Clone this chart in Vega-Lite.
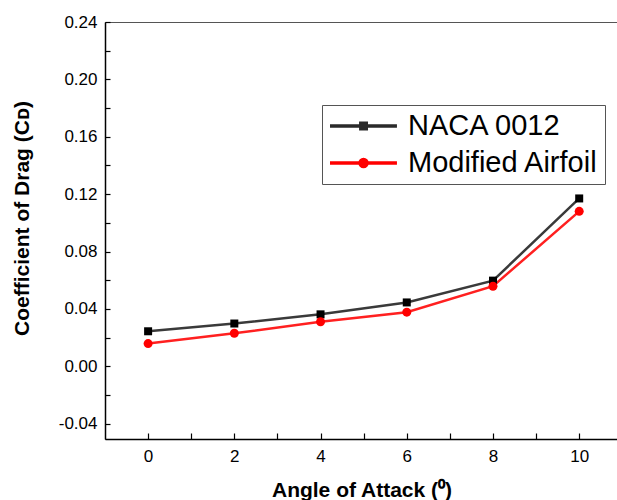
{
  "$schema": "https://vega.github.io/schema/vega-lite/v6.json",
  "width": 513,
  "height": 417,
  "autosize": {"type": "none"},
  "padding": {"left": 105, "top": 22, "right": 0, "bottom": 61},
  "background": "white",
  "config": {
    "view": {"stroke": "#555555", "strokeWidth": 1},
    "font": "Liberation Sans",
    "axis": {
      "labelFont": "Liberation Sans",
      "labelFontSize": 17,
      "labelColor": "black",
      "titleFont": "Liberation Sans",
      "titleFontSize": 21,
      "titleFontWeight": "bold",
      "titleColor": "black",
      "domainColor": "black",
      "domainWidth": 1.5,
      "tickColor": "black",
      "tickWidth": 1.2,
      "grid": false
    }
  },
  "data": {
    "values": [
      {"angle": 0, "series": "NACA 0012", "cd": 0.0244},
      {"angle": 2, "series": "NACA 0012", "cd": 0.0298},
      {"angle": 4, "series": "NACA 0012", "cd": 0.0362},
      {"angle": 6, "series": "NACA 0012", "cd": 0.0445},
      {"angle": 8, "series": "NACA 0012", "cd": 0.0597},
      {"angle": 10, "series": "NACA 0012", "cd": 0.117},
      {"angle": 0, "series": "Modified Airfoil", "cd": 0.0158},
      {"angle": 2, "series": "Modified Airfoil", "cd": 0.023},
      {"angle": 4, "series": "Modified Airfoil", "cd": 0.031},
      {"angle": 6, "series": "Modified Airfoil", "cd": 0.0377},
      {"angle": 8, "series": "Modified Airfoil", "cd": 0.0558},
      {"angle": 10, "series": "Modified Airfoil", "cd": 0.108}
    ]
  },
  "encoding": {
    "x": {
      "field": "angle",
      "type": "quantitative",
      "scale": {"domain": [-1, 10.9], "nice": false, "zero": false},
      "axis": {
        "title": "Angle of Attack (⁰)",
        "values": [0, 1, 2, 3, 4, 5, 6, 7, 8, 9, 10],
        "labelExpr": "datum.value % 2 === 0 ? format(datum.value, 'd') : ''",
        "tickSize": -6,
        "labelPadding": 15,
        "titleY": 40,
        "titleBaseline": "top",
        "labelFlush": false,
        "labelOverlap": false
      }
    },
    "y": {
      "field": "cd",
      "type": "quantitative",
      "scale": {"domain": [-0.0507, 0.24], "nice": false, "zero": false},
      "axis": {
        "title": "Coefficient of Drag (Cᴅ)",
        "values": [-0.04, -0.02, 0, 0.02, 0.04, 0.06, 0.08, 0.1, 0.12, 0.14, 0.16, 0.18, 0.2, 0.22, 0.24],
        "labelExpr": "abs(round(datum.value * 100)) % 4 === 0 ? replace(format(datum.value, '.2f'), '−', '-') : ''",
        "tickSize": -5,
        "labelPadding": 13,
        "titleX": -73,
        "titleY": 196,
        "titleBaseline": "bottom",
        "labelFlush": false,
        "labelOverlap": false
      }
    }
  },
  "layer": [
    {
      "mark": {"type": "line", "strokeWidth": 2.5},
      "encoding": {
        "stroke": {
          "field": "series",
          "type": "nominal",
          "scale": {"range": ["#ff2020", "#3a3a3a"]},
          "legend": null
        }
      }
    },
    {
      "mark": {"type": "point", "filled": true, "opacity": 1},
      "encoding": {
        "shape": {
          "field": "series",
          "type": "nominal",
          "scale": {"range": ["circle", "square"]},
          "legend": null
        },
        "size": {
          "field": "series",
          "type": "nominal",
          "scale": {"range": [81, 64]},
          "legend": null
        },
        "color": {
          "field": "series",
          "type": "nominal",
          "scale": {"domain": ["NACA 0012", "Modified Airfoil"], "range": ["#000000", "#ff0000"]},
          "legend": {
            "title": null,
            "orient": "none",
            "legendX": 217,
            "legendY": 83,
            "labelFont": "Liberation Sans",
            "labelFontSize": 29,
            "labelColor": "black",
            "labelLimit": 600,
            "strokeColor": "#555555",
            "padding": 6,
            "symbolSize": 676,
            "symbolStrokeWidth": 3.5,
            "symbolType": {"expr": "datum.value === 'NACA 0012' ? 'M-1,0H4.15M1.37,-0.21H1.79V0.21H1.37Z' : 'M-1,0H4.15M1.85,0A0.27,0.27 0 1,1 1.31,0A0.27,0.27 0 1,1 1.85,0'"},
            "symbolFillColor": {"expr": "datum.value === 'NACA 0012' ? '#000000' : '#ff0000'"},
            "symbolStrokeColor": {"expr": "datum.value === 'NACA 0012' ? '#2a2a2a' : '#ff0000'"},
            "symbolOpacity": 1,
            "labelOffset": 50,
            "rowPadding": 7
          }
        }
      }
    }
  ]
}
